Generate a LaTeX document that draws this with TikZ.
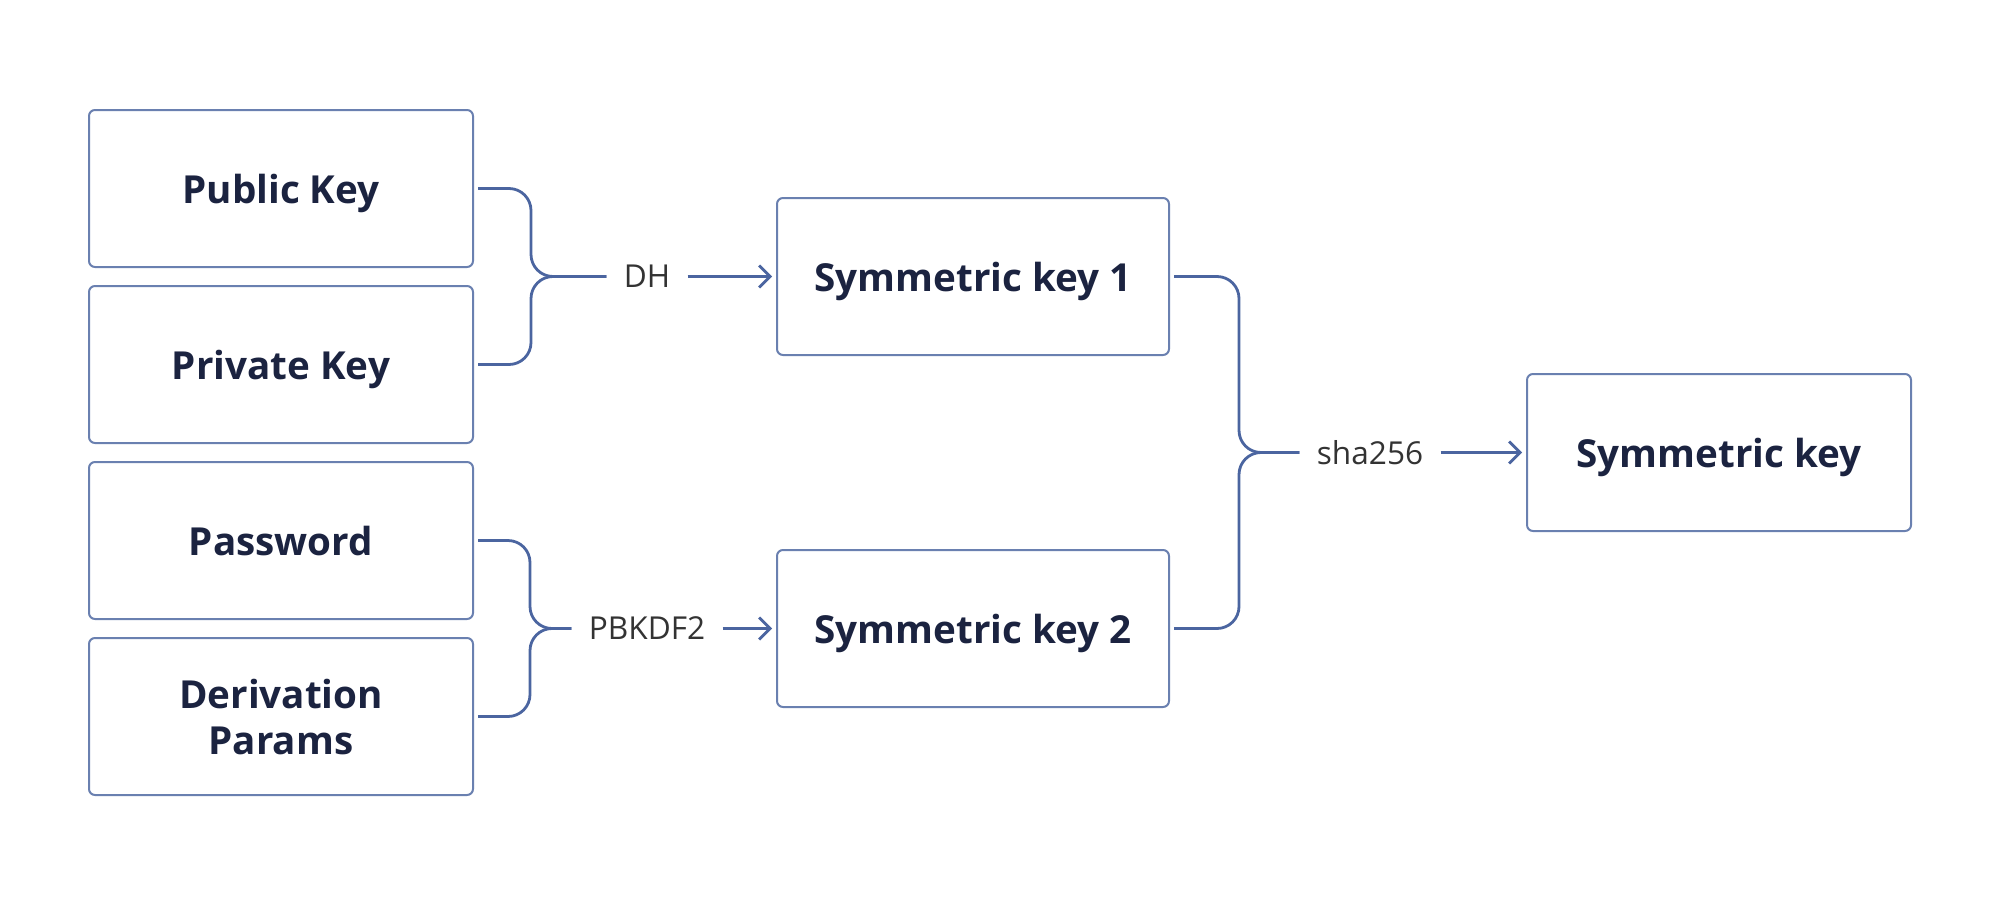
\documentclass[tikz,border=0pt]{standalone}
\usepackage{fontspec}
\setmainfont{Open Sans}
\usetikzlibrary{calc,arrows.meta}
\definecolor{boxline}{HTML}{6A80B0}
\definecolor{connline}{HTML}{4B65A0}
\definecolor{titletext}{HTML}{1B2340}
\definecolor{labeltext}{HTML}{333333}
\begin{document}
\begin{tikzpicture}[x=0.5pt,y=-0.5pt,
  keybox/.style={draw=boxline, line width=1pt, rounded corners=3pt, fill=white,
    minimum width=192pt, minimum height=78.5pt, inner sep=0pt, align=center,
    text depth=0pt,
    text=titletext, font=\fontsize{19.3pt}{23pt}\selectfont\bfseries},
  midbox/.style={keybox, minimum width=196pt},
  oplabel/.style={inner xsep=8.5pt, inner ysep=0pt, text depth=0pt, text=labeltext,
    font=\fontsize{15.8pt}{18pt}\selectfont},
  conn/.style={draw=connline, line width=1.4pt, rounded corners=11pt},
  arr/.style={draw=connline, line width=1.4pt, -{Straight Barb[length=5.5pt,width=11pt,line width=1.4pt]}, shorten >=2pt}
]
\useasboundingbox (0,0) rectangle (2000,905);
\node[keybox] (pub) at (281,188.5) {Public Key};
\node[keybox] (priv) at (281,364.5) {Private Key};
\node[keybox] (pwd) at (281,540.5) {Password};
\node[keybox] (der) at (281,716.5) {Derivation\\Params};
\node[midbox] (sk1) at (973,276.5) {Symmetric key 1};
\node[midbox] (sk2) at (973,628.5) {Symmetric key 2};
\node[keybox] (sk) at (1719,452.5) {Symmetric key};

\node[oplabel] (dh) at (647,276.5) {DH};
\node[oplabel] (pb) at (647,628.5) {PBKDF2};
\node[oplabel] (sha) at (1370,452.5) {sha256};

\coordinate (v1) at ($(pub.east)+(57,0)$);
\coordinate (j1) at (v1 |- dh);
\coordinate (v2) at ($(pwd.east)+(56,0)$);
\coordinate (j2) at (v2 |- pb);
\coordinate (v3) at ($(sk1.east)+(69,0)$);
\coordinate (j3) at (v3 |- sha);

\draw[conn] ($(pub.east)+(4,0)$) -| (j1) -- (dh.west);
\draw[conn] ($(priv.east)+(4,0)$) -| (j1) -- (dh.west);
\draw[conn] ($(pwd.east)+(4,0)$) -| (j2) -- (pb.west);
\draw[conn] ($(der.east)+(4,0)$) -| (j2) -- (pb.west);
\draw[conn] ($(sk1.east)+(4,0)$) -| (j3) -- (sha.west);
\draw[conn] ($(sk2.east)+(4,0)$) -| (j3) -- (sha.west);

\draw[arr] (dh.east) -- (sk1.west);
\draw[arr] (pb.east) -- (sk2.west);
\draw[arr] (sha.east) -- (sk.west);
\end{tikzpicture}
\end{document}
